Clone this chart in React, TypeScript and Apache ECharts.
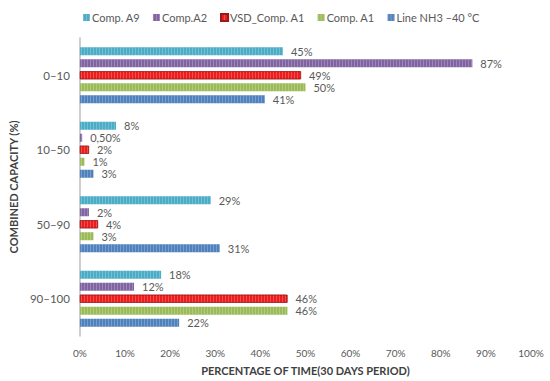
import React, { useEffect, useRef } from "react";
import * as echarts from "echarts";

const categories = ["0–10", "10–50", "50–90", "90–100"];
const seriesNames = ["Comp. A9", "Comp.A2", "VSD_Comp. A1", "Comp. A1", "Line NH3 –40 °C"];
const compA9 = [45, 8, 29, 18];
const compA2 = [87, 0.5, 2, 12];
const vsdCompA1 = [49, 2, 4, 46];
const compA1 = [50, 1, 3, 46];
const lineNH3 = [41, 3, 31, 22];
const xTicks = [0, 10, 20, 30, 40, 50, 60, 70, 80, 90, 100];

const colors = ["#4bacc6", "#8064a2", "#f01c1c", "#9bbb59", "#4f81bd"];
const borders = ["#4bacc6", "#8064a2", "#9a1a1a", "#9bbb59", "#4f81bd"];
const FONT = "Lato, 'Open Sans', sans-serif";

const fmt = (v: number) => (Number.isInteger(v) ? `${v}%` : `${v.toFixed(2).replace(".", ",")}%`);

export default function App() {
  const ref = useRef<HTMLDivElement>(null);
  useEffect(() => {
    if (!ref.current) return;
    const chart = echarts.init(ref.current, undefined, { renderer: "svg" });
    const data = [compA9, compA2, vsdCompA1, compA1, lineNH3];
    chart.setOption({
      animation: false,
      textStyle: { fontFamily: FONT },
      legend: {
        top: 7,
        left: 78,
        itemWidth: 7,
        itemHeight: 7,
        itemGap: 13,
        icon: "rect",
        textStyle: { color: "#595959", fontSize: 11, fontFamily: FONT, padding: [0, 0, 0, -3] },
        data: seriesNames,
      },
      grid: { left: 70, right: 19, top: 38, bottom: 44, containLabel: false },
      xAxis: {
        type: "value",
        min: 0,
        max: 100,
        interval: 10,
        axisLine: { show: false },
        axisTick: { show: false },
        splitLine: { show: false },
        axisLabel: {
          color: "#595959",
          fontSize: 10,
          fontFamily: FONT,
          margin: 12,
          formatter: (v: number) => (xTicks.includes(v) ? `${v}%` : ""),
        },
        name: "PERCENTAGE OF TIME(30 DAYS PERIOD)",
        nameLocation: "middle",
        nameGap: 29,
        nameTextStyle: { color: "#404040", fontSize: 11, fontWeight: "bold", fontFamily: FONT },
      },
      yAxis: {
        type: "category",
        inverse: true,
        data: categories,
        axisLine: { show: true, lineStyle: { color: "#bfbfbf", width: 1.5 } },
        axisTick: { show: false },
        axisLabel: { color: "#595959", fontSize: 11.5, fontFamily: FONT, margin: 10 },
        name: "COMBINED CAPACITY (%)",
        nameLocation: "middle",
        nameGap: 52,
        nameRotate: 90,
        nameTextStyle: { color: "#404040", fontSize: 11, fontWeight: "bold", fontFamily: FONT },
      },
      series: seriesNames.map((name, i) => ({
        name,
        type: "bar",
        data: data[i],
        barWidth: 8,
        barGap: "50%",
        itemStyle: {
          color: colors[i],
          borderColor: borders[i],
          borderWidth: i === 2 ? 0.6 : 0,
          decal: {
            symbol: "rect",
            symbolSize: 1,
            dashArrayX: [1, 2],
            dashArrayY: [10, 0],
            color: "rgba(255,255,255,0.22)",
            rotation: 0,
          },
        },
        label: {
          show: true,
          position: "right",
          distance: 8,
          color: "#595959",
          fontSize: 11,
          fontFamily: FONT,
          formatter: (p: any) => fmt(p.value),
        },
      })),
    });
    return () => chart.dispose();
  }, []);
  return (
    <div
      ref={ref}
      style={{ position: "fixed", left: 0, top: 0, width: 550, height: 381, background: "#fff" }}
    />
  );
}
